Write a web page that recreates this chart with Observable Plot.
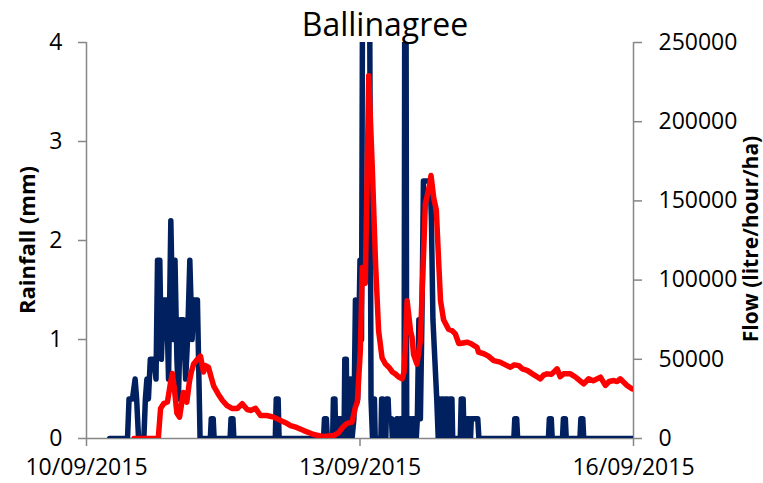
<!DOCTYPE html>
<html><head><meta charset="utf-8">
<script src="https://cdn.jsdelivr.net/npm/d3@7"></script>
<script src="https://cdn.jsdelivr.net/npm/@observablehq/plot@0.6"></script>
<style>
body{margin:0;background:#fff;}
#wrap{position:relative;width:763px;height:483px;font-family:"Open Sans",sans-serif;}
.t{position:absolute;color:#000;white-space:nowrap;line-height:1;}
</style></head><body>
<div id="wrap"></div>
<script>
const chartTitle = "Ballinagree";
const rainLabel = "Rainfall (mm)";
const flowLabel = "Flow (litre/hour/ha)";
const startDate = "2015-09-10T00:00:00Z";

// rainfall (mm): vertices as hours after 10/09/2015 00:00
const rainHours = [6.1,10.8,11.2,12.1,12.8,13.2,13.7,15.1,15.5,15.9,16.3,16.8,17.8,18.3,18.7,19.3,19.7,20.3,21.1,21.6,22.2,22.8,23.3,23.8,24.2,24.7,25.5,26.1,26.6,27.2,27.8,28.3,29.2,29.9,
32.6,32.85,33.35,33.6,37.8,38.05,38.55,38.8,49.7,49.95,50.45,50.7,62.4,62.65,63.15,63.4,64.8,65.0,65.4,65.6,66.2,66.4,66.8,67.0,67.8,68.0,68.4,68.6,68.9,69.4,69.6,69.9,
70.4,70.8,71.1,71.4,72.0,72.4,72.7,74.5,74.9,75.3,75.5,75.8,76.0,77.5,77.7,78.0,78.2,78.8,79.0,79.4,79.6,80.3,80.5,81.5,81.7,82.0,82.2,82.4,82.6,83.0,83.2,83.6,83.8,84.1,84.3,
84.6,85.3,85.5,85.8,86.6,86.8,87.1,87.5,87.9,88.3,88.7,90.5,90.8,91.2,91.7,92.2,92.6,93.0,93.2,93.5,93.9,94.2,94.4,94.8,95.1,95.5,95.8,96.2,96.4,
98.4,98.65,99.15,99.4,99.6,99.8,100.0,100.3,100.8,101.1,101.3,103.0,103.3,112.5,112.75,113.25,113.5,121.6,121.85,122.35,122.6,125.3,125.55,126.05,126.3,129.9,130.15,130.65,130.9,144];
const rainMm = [0,0,0.4,0.4,0.6,0.4,0,0,0.4,0.6,0.4,0.8,0.8,0.6,1.8,1.8,0.8,1.4,1.4,0.6,2.2,1.0,1.8,0.8,0.4,1.2,1.2,0.6,1.0,1.8,1.0,1.4,1.4,0,
0,0.2,0.2,0,0,0.2,0.2,0,0,0.4,0.4,0,0,0.2,0.2,0,0,0.4,0.4,0,0,0.2,0.2,0,0,0.8,0.8,0,0.2,0.6,0.6,0,
0.2,1.4,0.4,0.4,1.8,1.0,5,5,0.4,0,0.4,0.4,0,0,0.4,0.4,0,0,0.4,0.4,0.2,0.2,0,0,0.2,0.2,0,0,0.2,0.2,0,0,5,5,0,
0.2,0.2,0,0.2,0.2,0,0.2,1.2,0.2,1.2,2.6,2.6,2.2,1.2,0.8,0.4,0,0.4,0,0.4,0.4,0,0.4,0,0.4,0,0.4,0.4,0,
0,0.4,0.4,0,0,0.2,0,0.2,0.2,0,0.2,0.2,0,0,0.2,0.2,0,0,0.2,0.2,0,0,0.2,0.2,0,0,0.2,0.2,0,0];

// flow (litre/hour/ha)
const flowHours = [12.5,18.9,19.5,20.3,21.3,22.1,22.6,23.2,23.8,24.5,25.5,26.4,27.1,27.6,28.2,29.2,30.0,30.8,31.3,32.1,32.9,33.5,34.7,35.8,37.0,38.3,39.7,41.0,42.3,43.2,44.5,45.8,47.4,49.3,51.1,52.4,53.7,55.3,57.2,59.8,62.4,65.1,66.3,66.8,67.6,68.6,69.9,70.8,71.3,
72.1,72.6,73.4,74.3,75.2,76.1,76.9,77.8,78.7,79.6,80.5,81.3,82.1,83.1,83.6,83.9,84.4,85.3,85.7,86.1,87.0,87.9,88.8,89.2,89.8,90.3,90.7,91.4,92.1,92.7,93.2,94.0,95.3,96.3,97.1,98.0,98.4,
100.2,101.1,102.8,103.2,104.6,105.8,107.2,108.9,110.3,111.6,112.6,113.8,114.7,116.0,117.6,119.5,120.3,121.2,122.4,123.9,124.7,125.6,127.4,128.9,130.9,132.2,133.4,135.3,136.6,137.6,138.8,139.7,140.5,142.3,143.6];
const flowValues = [0,0,19000,22000,23000,35000,41000,30000,16000,13500,29000,23000,36000,42000,47000,50000,52000,42000,46000,45000,38000,33000,28000,24000,20800,19000,19000,22000,18300,17700,19000,14500,14500,13500,11400,10000,8200,7000,5000,2500,1200,1900,3500,5000,7500,9500,10300,19800,23000,
56000,108000,98000,229000,173000,110000,68000,51000,47000,45000,42000,40800,39000,37700,42000,55500,87000,68000,64000,53000,47000,62000,121000,148000,154500,160000,166000,152000,144000,112000,87000,75000,69000,68000,66000,60000,60000,
60800,60000,57600,54500,53500,52000,49200,48200,46500,45000,46500,46000,44000,43000,40500,37700,40000,40800,40500,44000,39000,40800,40800,38500,34500,37700,36500,38700,33500,36000,36600,36000,37700,33500,31400];

const rainTicks = [0,1,2,3,4];
const flowTicks = [0,50000,100000,150000,200000,250000];
const dateTicks = ["2015-09-10","2015-09-13","2015-09-16"];
const dateEndHours = 144;
const flowPerMm = 62500; // right-axis max (250000) over left-axis max (4)

const t0 = Date.parse(startDate);
const toDate = h => new Date(t0 + h * 3600e3);
const rain = rainHours.map((h, i) => ({date: toDate(h), mm: rainMm[i]}));
const flow = flowHours.map((h, i) => ({date: toDate(h), v: flowValues[i] / flowPerMm}));
const axisGray = "#868686";

const plot = Plot.plot({
  width: 763, height: 483,
  marginLeft: 86, marginRight: 130, marginTop: 42, marginBottom: 45,
  style: {fontFamily: "'Open Sans', sans-serif", fontSize: "23px", color: "#000", background: "#fff", overflow: "visible"},
  x: {type: "utc", domain: [toDate(0), toDate(dateEndHours)], axis: null},
  y: {domain: [0, 4], axis: null},
  marks: [
    Plot.ruleX([toDate(0)], {stroke: axisGray, strokeWidth: 1.5}),
    Plot.ruleX([toDate(dateEndHours)], {stroke: axisGray, strokeWidth: 1.5}),
    Plot.ruleY([0], {stroke: axisGray, strokeWidth: 1.5}),
    Plot.axisY(rainTicks, {anchor: "left", tickSize: 8, tickPadding: 16, stroke: axisGray, strokeWidth: 1.5, label: null, tickFormat: d => String(d)}),
    Plot.axisY(flowTicks.map(v => v / flowPerMm), {anchor: "right", tickSize: 8, tickPadding: 17, stroke: axisGray, strokeWidth: 1.5, label: null, textAnchor: "start", tickFormat: d => String(Math.round(d * flowPerMm))}),
    Plot.axisX(dateTicks.map(d => new Date(d + "T00:00:00Z")), {anchor: "bottom", tickSize: 8, tickPadding: 12, stroke: axisGray, strokeWidth: 1.5, label: null, tickFormat: d3.utcFormat("%d/%m/%Y")}),
    Plot.line(rain, {x: "date", y: "mm", stroke: "#002060", strokeWidth: 5.5, strokeLinejoin: "round", strokeLinecap: "round", clip: true}),
    Plot.line(flow, {x: "date", y: "v", stroke: "#ff0000", strokeWidth: 5.5, strokeLinejoin: "round", strokeLinecap: "round", clip: true})
  ]
});
const wrap = document.getElementById("wrap");
wrap.appendChild(plot);

function addText(txt, css) {
  const d = document.createElement("div");
  d.className = "t";
  d.textContent = txt;
  Object.assign(d.style, css);
  wrap.appendChild(d);
}
addText(chartTitle, {left: "385px", top: "8px", fontSize: "32px", transform: "translateX(-50%)"});
addText(rainLabel, {left: "26px", top: "240px", fontSize: "22px", fontWeight: "bold", transform: "translate(-50%,-50%) rotate(-90deg)"});
addText(flowLabel, {left: "750px", top: "239px", fontSize: "21px", fontWeight: "bold", transform: "translate(-50%,-50%) rotate(-90deg)"});
</script>
</body></html>
